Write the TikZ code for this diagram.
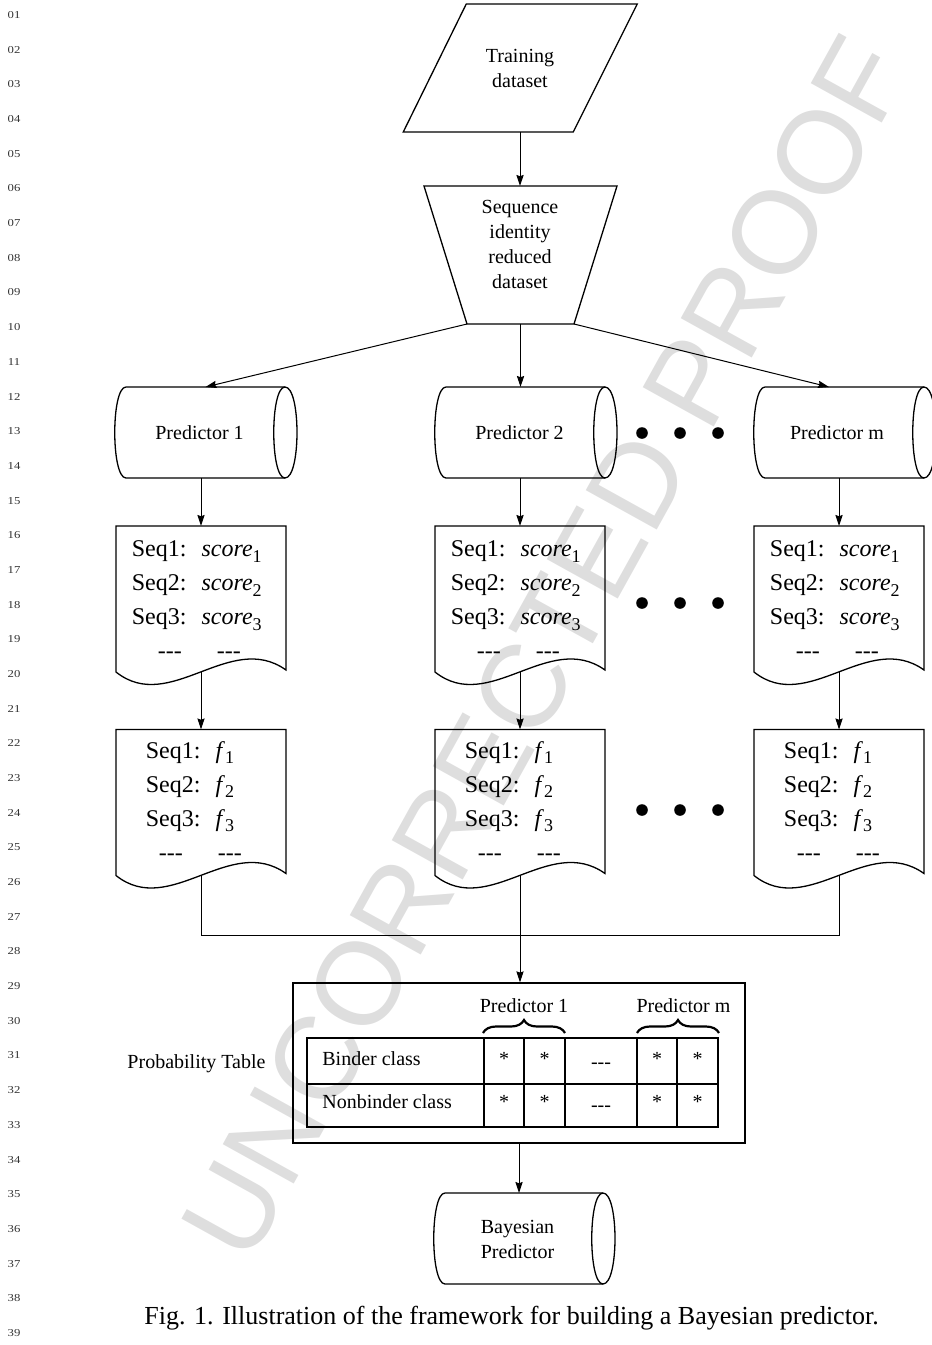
\documentclass[tikz,border=0pt]{standalone}
\usepackage{fontspec}
\setmainfont{Liberation Serif}
\newfontfamily\wmfont{Liberation Sans}
\usetikzlibrary{calc,arrows.meta,decorations.pathreplacing}
\newcommand{\sbs}[1]{\raisebox{-0.22em}{\fontsize{9}{9}\selectfont #1}}
\newcommand{\sqs}[1]{Seq#1:\hspace{7.5pt}\textit{score}\sbs{#1}}
\newcommand{\sqf}[1]{Seq#1:\hspace{7.5pt}\textit{f}\sbs{#1}}
\newcommand{\dashrow}[1]{\hspace*{#1}-{}-{}-\hspace{17.5pt}-{}-{}-}
\begin{document}
\begin{tikzpicture}[x=0.5pt,y=-0.5pt,
  shp/.style={draw=none,inner sep=0pt,outer sep=0pt},
  outline/.style={line width=0.65pt,black},
  conn/.style={line width=0.5pt,black},
  arr/.style={conn,-{Stealth[length=5.5pt,width=3.6pt,inset=0.6pt]}},
  lbl/.style={font=\fontsize{10}{12.5}\selectfont,align=center,inner sep=0pt},
  seqtxt/.style={font=\fontsize{12}{17}\selectfont,align=left,inner sep=0pt,anchor=west},
  cell/.style={font=\fontsize{10}{12}\selectfont,inner sep=0pt,anchor=base},
  brc/.style={decorate,decoration={brace,amplitude=6.5pt},line width=1.1pt},
  lnum/.style={font=\fontsize{5.3}{6}\selectfont,text=black!80,inner sep=0pt}]
\useasboundingbox (0,0) rectangle (932,1345);

% watermark
\node[rotate=61,text=black!13,font=\wmfont\fontsize{59}{59}\selectfont,inner sep=0pt] (wm) at (545,648) {UNCORRECTED PROOF};

% line numbers
\foreach \k in {1,...,39}
  \node[lnum] (ln\k) at (14,{15+(\k-1)*34.684}) {\scalebox{1.2}[1]{\ifnum\k<10 0\fi\k}};

% training dataset (parallelogram)
\node[shp,lbl,minimum width=85.25pt,minimum height=64pt] (train) at (520,68) {Training\\dataset};
\draw[outline] ($(train.north west)+(31.5,0)$) -- ($(train.north east)+(32,0)$)
  -- ($(train.south east)+(-32,0)$) -- ($(train.south west)+(-31.5,0)$) -- cycle;

% sequence identity reduced dataset (trapezoid)
\node[shp,minimum width=75pt,minimum height=69pt] (sid) at (520.5,255) {};
\node[lbl] (sidT) at (520,244.5) {Sequence\\identity\\reduced\\dataset};
\coordinate (sidBL) at ($(sid.south west)+(21.5,0)$);
\coordinate (sidBR) at ($(sid.south east)+(-21.5,0)$);
\draw[outline] ($(sid.north west)+(-21.5,0)$) -- ($(sid.north east)+(21.5,0)$) -- (sidBR) -- (sidBL) -- cycle;
\draw[arr] (train.south) -- (train.south |- sid.north);

% predictors (stored-data cylinders)
\node[shp,minimum width=79.5pt,minimum height=45.5pt] (p1) at (205.5,432.5) {};
\node[shp,minimum width=79.5pt,minimum height=45.5pt] (p2) at (525.5,432.5) {};
\node[shp,minimum width=79.5pt,minimum height=45.5pt] (pm) at (844.5,432.5) {};
\node[shp,minimum width=79pt,minimum height=45.5pt] (bp) at (524,1238.5) {};
\node[lbl] (p1T) at (199.5,433) {Predictor 1};
\node[lbl] (p2T) at (519.5,433) {Predictor 2};
\node[lbl] (pmT) at (837,433) {Predictor m};
\node[lbl] (bpT) at (517.5,1239) {Bayesian\\Predictor};
\foreach \nm in {p1,p2,pm,bp}{
  \draw[outline] (\nm.north west) -- (\nm.north east)
    .. controls ($(\nm.north east)+(16,0)$) and ($(\nm.south east)+(16,0)$) .. (\nm.south east)
    -- (\nm.south west)
    .. controls ($(\nm.south west)+(-15,0)$) and ($(\nm.north west)+(-15,0)$) .. (\nm.north west) -- cycle;
  \draw[outline] (\nm.north east)
    .. controls ($(\nm.north east)+(-15,0)$) and ($(\nm.south east)+(-15,0)$) .. (\nm.south east);
}
\coordinate (pmIn) at ($(pm.north)+(-15.5,0)$);
\draw[arr] (sidBL) -- (p1.north);
\draw[arr] (sid.south) -- (sid.south |- p2.north);
\draw[arr] (sidBR) -- (pmIn);

% documents
\foreach \nm/\xx in {d1/201,d2/520,dm/839}{
  \node[shp,minimum width=85pt,minimum height=73pt] (\nm) at (\xx,599) {};
}
\foreach \nm/\xx in {e1/201,e2/520,em/839}{
  \node[shp,minimum width=85pt,minimum height=73pt] (\nm) at (\xx,802.5) {};
}
\foreach \nm in {d1,d2,dm,e1,e2,em}{
  \draw[outline] (\nm.south west) -- (\nm.north west) -- (\nm.north east) -- ($(\nm.south east)+(0,-2)$)
    .. controls ($(\nm.south)+(29,-42)$) and ($(\nm.south)+(-31,43)$) .. (\nm.south west) -- cycle;
}
\foreach \nm in {d1,d2,dm}{
  \node[seqtxt] (\nm T) at ($(\nm.west)+(15.5,1)$) {\sqs{1}\\\sqs{2}\\\sqs{3}\\\dashrow{13pt}};
}
\foreach \nm in {e1,e2,em}{
  \node[seqtxt] (\nm T) at ($(\nm.west)+(29.5,-1.5)$) {\sqf{1}\\\sqf{2}\\\sqf{3}\\\dashrow{6.5pt}};
}

% continuation dots
\foreach \yy in {433,603,810}
  \foreach \xx in {642,680,718}
    \fill (\xx,\yy) circle (2.9pt);

% connectors between documents
\draw[arr] (p1.south -| d1.north) -- (d1.north);
\draw[arr] (p2.south -| d2.north) -- (d2.north);
\draw[arr] (pm.south -| dm.north) -- (dm.north);
\draw[arr] (d1.south) -- (e1.north);
\draw[arr] (d2.south) -- (e2.north);
\draw[arr] (dm.south) -- (em.north);

% probability table
\node[draw,line width=0.65pt,minimum width=226pt,minimum height=80pt,inner sep=0pt] (tbl) at (519,1063) {};
\coordinate (jn) at (520,935);
\draw[conn] (e1.south) -- (e1.south |- jn) -- (em.south |- jn) -- (em.south);
\draw[arr] (e2.south) -- (e2.south |- tbl.north);

\draw[outline] (307,1038) rectangle (718,1127);
\draw[outline] (307,1084) -- (718,1084);
\foreach \xx in {484,524,565,637,677}
  \draw[outline] (\xx,1038) -- (\xx,1127);
\node[cell,anchor=base west] (bc) at (322,1065) {Binder class};
\node[cell,anchor=base west] (nbc) at (322,1108) {Nonbinder class};
\foreach \xx [count=\c] in {504,544.5,657,697.5}{
  \node[cell] (ra\c) at (\xx,1065) {*};
  \node[cell] (rb\c) at (\xx,1108) {*};
}
\node[cell] (ma) at (601,1068) {-{}-{}-};
\node[cell] (mb) at (601,1111) {-{}-{}-};
\draw[brc] (483,1033) -- (565,1033);
\draw[brc] (637,1033) -- (719,1033);
\node[cell] (bl1) at (524,1012) {Predictor 1};
\node[cell] (blm) at (683.5,1012) {Predictor m};
\node[cell] (ptl) at (196.5,1068) {Probability Table};

\draw[arr] (tbl.south) -- (tbl.south |- bp.north);

% caption
\node[font=\fontsize{13}{15}\selectfont,anchor=base,inner sep=0pt] (cap) at (511.5,1324)
  {Fig. 1. Illustration of the framework for building a Bayesian predictor.};
\end{tikzpicture}
\end{document}
